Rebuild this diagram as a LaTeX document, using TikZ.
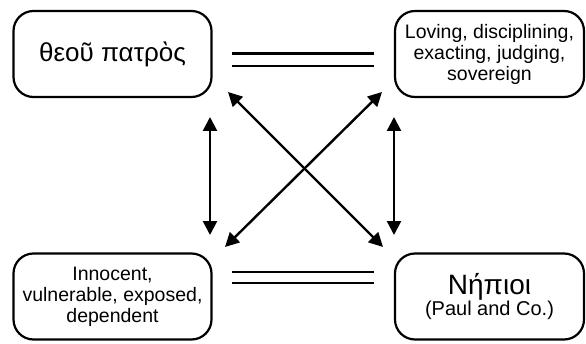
\documentclass[tikz,border=0pt]{standalone}
\usepackage{fontspec}
\setmainfont{Liberation Sans}
\usetikzlibrary{arrows.meta,calc}
\begin{document}
\begin{tikzpicture}[x=1pt,y=1pt,
  box/.style={draw,line width=2.2pt,rounded corners=20pt,align=center,inner sep=0pt,minimum height=86pt},
  dbl/.style={line width=2.3pt},
  arr/.style={line width=2.4pt,{Triangle[length=14pt,width=14pt]}-{Triangle[length=14pt,width=14pt]}}]
\useasboundingbox (0,0) rectangle (586,343);
\node[box,minimum width=198pt,font=\fontsize{26}{30}\selectfont] (tl) at (112.5,289) {θεοῦ πατρὸς};
\node[box,minimum width=189pt,font=\fontsize{19.5}{21}\selectfont] (tr) at (489.5,289) {Loving, disciplining,\\exacting, judging,\\sovereign};
\node[box,minimum width=198pt,font=\fontsize{19.5}{21}\selectfont] (bl) at (112.5,46.5) {Innocent,\\vulnerable, exposed,\\dependent};
\node[box,minimum width=189pt,align=center] (br) at (489.5,46.5) {{\fontsize{28}{31}\selectfont Νήπιοι}\\[0pt]{\fontsize{20}{22}\selectfont (Paul and Co.)}};
% double lines
\draw[dbl] ($(tl.east)+(19,0.5)$) -- ($(tr.west)+(-20,0.5)$);
\draw[dbl] ($(tl.east)+(19,-12)$) -- ($(tr.west)+(-20,-12)$);
\draw[dbl] ($(bl.east)+(19,24.8)$) -- ($(br.west)+(-20,24.8)$);
\draw[dbl] ($(bl.east)+(19,13.2)$) -- ($(br.west)+(-20,13.2)$);
% arrows
\coordinate (lv1) at (210,226);
\coordinate (lv2) at (210,108);
\coordinate (rv1) at (394,226);
\coordinate (rv2) at (394,108);
\draw[arr] (lv1) -- (lv2);
\draw[arr] (rv1) -- (rv2);
\coordinate (d1a) at (228,251);
\coordinate (d1b) at (383,96);
\coordinate (d2a) at (382,251);
\coordinate (d2b) at (225,96);
\draw[arr] (d1a) -- (d1b);
\draw[arr] (d2a) -- (d2b);
\end{tikzpicture}
\end{document}
